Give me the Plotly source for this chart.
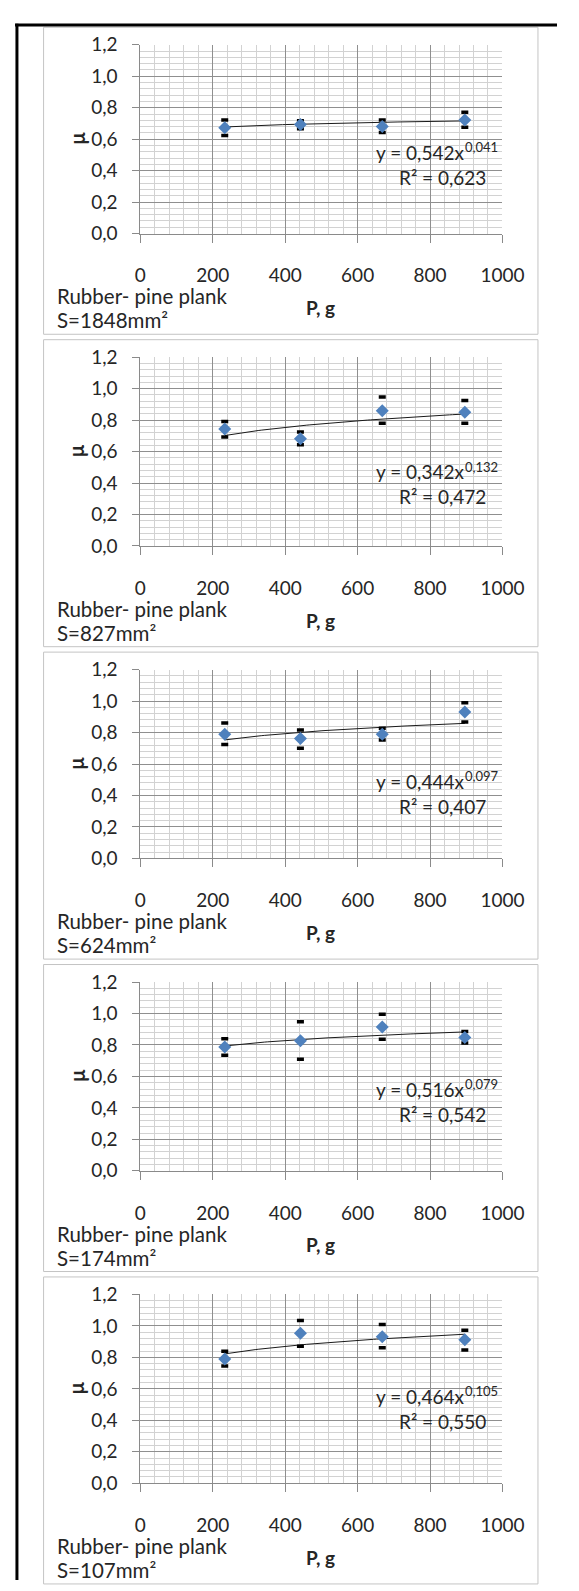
import numpy as np
import plotly.graph_objects as go

W, H = 579, 1591

# ---------------- data ----------------
load_g = [233, 442, 668, 896]
contact_area = ["1848", "827", "624", "174", "107"]

mu_s1848 = [0.672, 0.693, 0.681, 0.722]
mu_s827 = [0.744, 0.682, 0.860, 0.851]
mu_s624 = [0.789, 0.762, 0.789, 0.931]
mu_s174 = [0.787, 0.827, 0.915, 0.848]
mu_s107 = [0.790, 0.954, 0.932, 0.913]

mu_hi_s1848 = [0.722, 0.718, 0.722, 0.771]
mu_hi_s827 = [0.792, 0.725, 0.947, 0.925]
mu_hi_s624 = [0.861, 0.817, 0.827, 0.989]
mu_hi_s174 = [0.839, 0.948, 0.996, 0.885]
mu_hi_s107 = [0.839, 1.034, 1.009, 0.973]

mu_lo_s1848 = [0.624, 0.666, 0.643, 0.676]
mu_lo_s827 = [0.693, 0.644, 0.780, 0.780]
mu_lo_s624 = [0.724, 0.701, 0.752, 0.867]
mu_lo_s174 = [0.734, 0.709, 0.837, 0.812]
mu_lo_s107 = [0.746, 0.871, 0.862, 0.847]

fit_coef = [0.542, 0.342, 0.444, 0.516, 0.464]
fit_exp = [0.041, 0.132, 0.097, 0.079, 0.105]
fit_r2 = [0.623, 0.472, 0.407, 0.542, 0.550]

x_tick_vals = [0, 200, 400, 600, 800, 1000]
x_tick_text = ["0", "200", "400", "600", "800", "1000"]
y_tick_vals = [0.0, 0.2, 0.4, 0.6, 0.8, 1.0, 1.2]
y_tick_text = ["0,0", "0,2", "0,4", "0,6", "0,8", "1,0", "1,2"]

x_title = "P, g"
y_title = "µ"

mu_sets = [mu_s1848, mu_s827, mu_s624, mu_s174, mu_s107]
hi_sets = [mu_hi_s1848, mu_hi_s827, mu_hi_s624, mu_hi_s174, mu_hi_s107]
lo_sets = [mu_lo_s1848, mu_lo_s827, mu_lo_s624, mu_lo_s174, mu_lo_s107]

# ---------------- layout helpers (pixels -> paper) ----------------
def fx(px):
    return px / W

def fy(py):
    return 1 - py / H

PITCH = 317
PLOT_L, PLOT_R = 141.2, 521.7
PLOT_T, PLOT_B = 33.3, 224.8
eq_label_y = [0.438, 0.392, 0.410, 0.437, 0.473]
EQ_HALF_GAP = 0.08     # half line spacing of the equation label (mu units)
EQ_JOIN_X = 898        # where the base text ends and the exponent starts (g units)
R2_X = 834

FONT = "Lato, Calibri, Carlito, sans-serif"
TXT = "#262626"

fig = go.Figure()
layout_axes = {}
annotations = []
shapes = []

# table border lines (top and left)
shapes.append(dict(type="line", xref="paper", yref="paper",
                   x0=fx(9.5), x1=fx(579), y0=fy(13.3), y1=fy(13.3),
                   line=dict(color="black", width=3)))
shapes.append(dict(type="line", xref="paper", yref="paper",
                   x0=fx(11.5), x1=fx(11.5), y0=fy(12), y1=fy(1591),
                   line=dict(color="black", width=3)))

for k in range(5):
    off = PITCH * k
    xa = "x" if k == 0 else f"x{k+1}"
    ya = "y" if k == 0 else f"y{k+1}"
    xkey = "xaxis" if k == 0 else f"xaxis{k+1}"
    ykey = "yaxis" if k == 0 else f"yaxis{k+1}"

    # chart box
    shapes.append(dict(type="rect", xref="paper", yref="paper",
                       x0=fx(39.5), x1=fx(559), y0=fy(15.5 + off), y1=fy(327 + off),
                       line=dict(color="#c4c4c4", width=1), layer="below"))

    layout_axes[xkey] = dict(
        domain=[fx(PLOT_L), fx(PLOT_R)], anchor=ya, range=[0, 1000],
        tickvals=x_tick_vals, ticktext=x_tick_text,
        showgrid=True, gridcolor="#8f8f8f", gridwidth=1,
        minor=dict(dtick=40, tick0=0, showgrid=True, gridcolor="#d2d2d2", gridwidth=1),
        showline=True, linecolor="#8a8a8a", linewidth=1,
        ticks="outside", ticklen=8, tickcolor="#8a8a8a",
        ticklabelstandoff=17, zeroline=False,
        tickfont=dict(family=FONT, size=19, color=TXT),
        fixedrange=True,
    )
    layout_axes[ykey] = dict(
        domain=[fy(PLOT_B + off), fy(PLOT_T + off)], anchor=xa, range=[0, 1.2],
        tickvals=y_tick_vals, ticktext=y_tick_text,
        showgrid=True, gridcolor="#8f8f8f", gridwidth=1,
        minor=dict(dtick=0.04, tick0=0, showgrid=True, gridcolor="#d2d2d2", gridwidth=1),
        showline=True, linecolor="#8a8a8a", linewidth=1,
        ticks="outside", ticklen=7, tickcolor="#8a8a8a",
        ticklabelstandoff=11, zeroline=False,
        tickfont=dict(family=FONT, size=19, color=TXT),
        fixedrange=True,
    )

    # power trendline from displayed equation
    xs = np.linspace(min(load_g), max(load_g), 80)
    ys = fit_coef[k] * xs ** fit_exp[k]
    fig.add_trace(go.Scatter(x=xs, y=ys, mode="lines", xaxis=xa, yaxis=ya,
                             line=dict(color="#1a1a1a", width=1), hoverinfo="skip",
                             showlegend=False))
    # error caps
    fig.add_trace(go.Scatter(x=load_g + load_g, y=hi_sets[k] + lo_sets[k], mode="markers",
                             xaxis=xa, yaxis=ya, showlegend=False,
                             marker=dict(symbol="line-ew", size=5,
                                         line=dict(color="black", width=3.5))))
    # data points
    fig.add_trace(go.Scatter(x=load_g, y=mu_sets[k], mode="markers", xaxis=xa, yaxis=ya,
                             showlegend=False,
                             marker=dict(symbol="diamond", size=10, color="#4f81bd",
                                         line=dict(width=0))))

    a_txt = f"{fit_coef[k]:.3f}".replace(".", ",")
    b_txt = f"{fit_exp[k]:.3f}".replace(".", ",")
    r_txt = f"{fit_r2[k]:.3f}".replace(".", ",")
    annotations.append(dict(xref=xa, yref=ya, x=EQ_JOIN_X, y=eq_label_y[k] + EQ_HALF_GAP,
                            xanchor="right", yanchor="middle",
                            text=f"y = {a_txt}x", showarrow=False,
                            font=dict(family=FONT, size=19, color=TXT)))
    annotations.append(dict(xref=xa, yref=ya, x=EQ_JOIN_X, y=eq_label_y[k] + EQ_HALF_GAP,
                            xanchor="left", yanchor="middle", xshift=-3, yshift=5,
                            text=b_txt, showarrow=False,
                            font=dict(family=FONT, size=13, color=TXT)))
    annotations.append(dict(xref=xa, yref=ya, x=R2_X, y=eq_label_y[k] - EQ_HALF_GAP,
                            xanchor="center", yanchor="middle",
                            text=f"R² = {r_txt}", showarrow=False,
                            font=dict(family=FONT, size=19, color=TXT)))
    # axis titles
    annotations.append(dict(xref="paper", yref="paper", x=fx(330), y=fy(300 + off),
                            xanchor="center", yanchor="middle",
                            text=x_title, showarrow=False,
                            font=dict(family=FONT, size=19, color=TXT, weight="bold")))
    annotations.append(dict(xref="paper", yref="paper", x=fx(74), y=fy(128.5 + off),
                            xanchor="center", yanchor="middle",
                            text=y_title, textangle=-90, showarrow=False,
                            font=dict(family=FONT, size=20, color=TXT, weight="bold")))
    # sample note
    annotations.append(dict(xref="paper", yref="paper", x=fx(52), y=fy(288.5 + off),
                            xanchor="left", yanchor="middle",
                            text="Rubber- pine plank", showarrow=False,
                            font=dict(family=FONT, size=20.5, color=TXT)))
    annotations.append(dict(xref="paper", yref="paper", x=fx(52), y=fy(313 + off),
                            xanchor="left", yanchor="middle",
                            text=f"S={contact_area[k]}mm²", showarrow=False,
                            font=dict(family=FONT, size=20.5, color=TXT)))

fig.update_layout(
    width=W, height=H,
    margin=dict(l=0, r=0, t=0, b=0),
    paper_bgcolor="white", plot_bgcolor="white",
    showlegend=False,
    shapes=shapes, annotations=annotations,
    **layout_axes,
)

fig.write_html("out.html")
